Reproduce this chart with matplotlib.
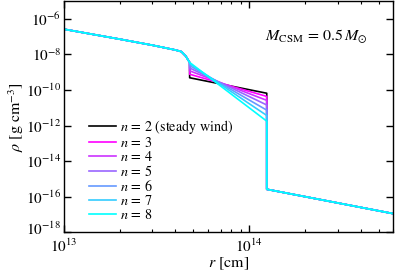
import numpy as np
import matplotlib.pyplot as plt
import matplotlib.transforms as mtransforms
from matplotlib.ticker import LogLocator, NullFormatter

plt.rcParams['font.family'] = ['STIXGeneral', 'DejaVu Serif']
plt.rcParams['mathtext.fontset'] = 'stix'

# values (log10 of density)
r_inner = [1.0e13, 2.0e13, 3.0e13, 4.0e13, 4.3e13, 4.55e13, 4.77e13]
logrho_inner = [-6.58, -7.14, -7.48, -7.75, -7.84, -8.10, -8.45]

r_csm_in = 4.77e13
r_csm_out = 1.244e14

n_vals = [2, 3, 4, 5, 6, 7, 8]
logrho_csm_in = [-9.31, -9.11, -8.92, -8.76, -8.63, -8.52, -8.45]
logrho_csm_out = [-10.18, -10.36, -10.58, -10.84, -11.13, -11.43, -11.75]

r_outer = [1.244e14, 6.0e14]
logrho_outer = [-15.58, -16.95]

fig = plt.figure(figsize=(3.95, 2.73), dpi=100)
ax = fig.add_axes([0.162, 0.149, 0.8337, 0.847])

cmap = plt.get_cmap('cool')
for i, n in enumerate(n_vals):
    r = r_inner + [r_csm_in, r_csm_out] + r_outer
    lr = logrho_inner + [logrho_csm_in[i], logrho_csm_out[i]] + logrho_outer
    if n == 2:
        col = 'k'
        lab = r'$n\,=\,2$ (steady wind)'
    else:
        col = cmap(1 - (n - 3) / 5)
        lab = r'$n\,=\,%d$' % n
    ax.plot(r, 10**np.array(lr), color=col, lw=1.2, label=lab)

ax.set_xscale('log')
ax.set_yscale('log')
ax.set_xlim(1e13, 6e14)
ax.set_ylim(1e-18, 1e-5)
ax.set_yticks([10.0**k for k in range(-18, -5, 2)])
ax.yaxis.set_minor_locator(plt.NullLocator())
ax.xaxis.set_minor_locator(LogLocator(base=10, subs=np.arange(2, 10)))
ax.xaxis.set_minor_formatter(NullFormatter())

ax.tick_params(which='both', direction='in', top=True, right=True, labelsize=11)
ax.tick_params(which='major', length=5, width=1)
ax.tick_params(which='minor', length=2.5, width=0.8)
ax.tick_params(axis='x', pad=4)
ax.tick_params(axis='y', pad=2)
for s in ax.spines.values():
    s.set_linewidth(1.0)

# nudge the lowest y label up a touch so it clears 10^13
lbl = ax.get_yticklabels()[0]
lbl.set_transform(lbl.get_transform() + mtransforms.ScaledTranslation(0, 3 / 72, fig.dpi_scale_trans))

ax.set_xlabel(r'$r$ [cm]', fontsize=11.5, labelpad=0)
ax.set_ylabel(r'$\rho$ [g cm$^{-3}$]', fontsize=11.5, labelpad=0)

ax.text(0.61, 0.83, r'$M_{\rm CSM}\,=\,0.5\,M_{\odot}$', transform=ax.transAxes, fontsize=11.5)

ax.legend(loc='lower left', bbox_to_anchor=(0.045, 0.0), frameon=False, fontsize=10.2,
          handlelength=1.95, handletextpad=0.25, labelspacing=0.0, borderaxespad=0.3)

fig.savefig('out.png', dpi=100)
